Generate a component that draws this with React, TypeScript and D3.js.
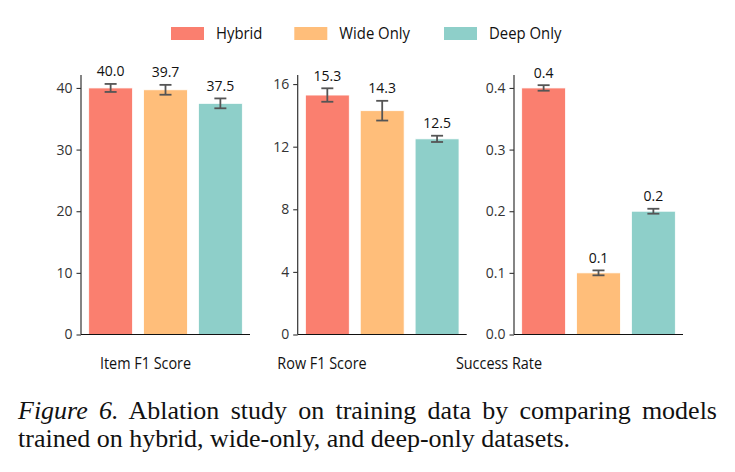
import { useRef, useEffect } from "react";
import * as d3 from "d3";

const models = ["Hybrid", "Wide Only", "Deep Only"];
const colors = ["#FA7F6F", "#FFBE7A", "#8ECFC9"];

const metrics = ["Item F1 Score", "Row F1 Score", "Success Rate"];
const itemF1 = [40.0, 39.7, 37.5];
const itemF1Err = [0.65, 0.8, 0.8];
const rowF1 = [15.3, 14.3, 12.5];
const rowF1Err = [0.43, 0.63, 0.2];
const successRate = [0.4, 0.1, 0.2];
const successRateErr = [0.0045, 0.004, 0.004];

const yMax = [42.1, 16.58, 0.421];
const yTicks = [
  [0, 10, 20, 30, 40],
  [0, 4, 8, 12, 16],
  [0, 0.1, 0.2, 0.3, 0.4],
];
const tickFormats = [d3.format("d"), d3.format("d"), d3.format(".1f")];
const valueFormats = [d3.format(".1f"), d3.format(".1f"), d3.format(".1f")];

const captionLabel = "Figure 6.";
const captionLines = [
  "Ablation study on training data by comparing models",
  "trained on hybrid, wide-only, and deep-only datasets.",
];

export default function App() {
  const svgRef = useRef<SVGSVGElement>(null);

  useEffect(() => {
    if (!svgRef.current) return;
    const width = 735;
    const height = 472;
    const font = "'Open Sans', 'Noto Sans', sans-serif";

    const svg = d3.select(svgRef.current);
    svg.selectAll("*").remove();
    svg.attr("width", width).attr("height", height);
    svg.append("rect").attr("width", width).attr("height", height).attr("fill", "#fff");

    const values = [itemF1, rowF1, successRate];
    const errors = [itemF1Err, rowF1Err, successRateErr];

    // panel layout
    const panelLeft = [81, 297.7, 514];
    const panelWidth = 169;
    const plotTop = 75;
    const plotBottom = 334.5;
    const labelCenter = [145.5, 322, 499];
    const condense = 0.9; // reference sans is narrower than Open Sans

    metrics.forEach((metric, p) => {
      const g = svg.append("g").attr("transform", `translate(${panelLeft[p]},0)`);

      const x = d3
        .scaleBand<string>()
        .domain(models)
        .range([0, panelWidth])
        .paddingInner(0.2)
        .paddingOuter(0.14);

      const y = d3.scaleLinear().domain([0, yMax[p]]).range([plotBottom, plotTop]);

      const rows = models.map((m, i) => ({
        model: m,
        value: values[p][i],
        err: errors[p][i],
        color: colors[i],
      }));

      // bars
      g.selectAll(".bar")
        .data(rows)
        .join("rect")
        .attr("class", "bar")
        .attr("x", (d) => x(d.model)!)
        .attr("y", (d) => y(d.value))
        .attr("width", x.bandwidth())
        .attr("height", (d) => y(0) - y(d.value))
        .attr("fill", (d) => d.color)
        .attr("stroke", "#fff")
        .attr("stroke-width", 0.8);

      // error bars
      const eb = g.selectAll(".err").data(rows).join("g").attr("class", "err")
        .attr("stroke", "#555")
        .attr("stroke-width", 1.8);
      const cx = (d: (typeof rows)[number]) => x(d.model)! + x.bandwidth() / 2;
      eb.append("line")
        .attr("x1", cx).attr("x2", cx)
        .attr("y1", (d) => y(d.value - d.err))
        .attr("y2", (d) => y(d.value + d.err));
      eb.append("line")
        .attr("x1", (d) => cx(d) - 6).attr("x2", (d) => cx(d) + 6)
        .attr("y1", (d) => y(d.value - d.err))
        .attr("y2", (d) => y(d.value - d.err));
      eb.append("line")
        .attr("x1", (d) => cx(d) - 6).attr("x2", (d) => cx(d) + 6)
        .attr("y1", (d) => y(d.value + d.err))
        .attr("y2", (d) => y(d.value + d.err));

      // value labels
      g.selectAll(".val")
        .data(rows)
        .join("text")
        .attr("class", "val")
        .attr("x", cx)
        .attr("y", (d) => y(d.value + d.err) - 7.5)
        .attr("text-anchor", "middle")
        .style("font-family", font)
        .style("font-size", "14px")
        .style("fill", "#111")
        .text((d) => valueFormats[p](d.value));

      // y axis
      const yAxis = g.append("g").call(
        d3.axisLeft(y).tickValues(yTicks[p]).tickFormat((d) => tickFormats[p](d as number)).tickSize(4.5).tickPadding(4)
      );
      yAxis.select(".domain").attr("d", `M0,${plotTop}V${plotBottom}`).attr("stroke", "#333").attr("stroke-width", 1.2);
      yAxis.selectAll(".tick line").attr("stroke", "#333").attr("stroke-width", 1.1);
      yAxis.selectAll(".tick text")
        .style("font-family", font)
        .style("font-size", "14px")
        .style("fill", "#333");

      // x axis line (no ticks)
      g.append("line")
        .attr("x1", 0).attr("x2", panelWidth)
        .attr("y1", plotBottom).attr("y2", plotBottom)
        .attr("stroke", "#111").attr("stroke-width", 1.2);

      const xl = svg.append("text")
        .attr("x", labelCenter[p])
        .attr("y", 369)
        .attr("text-anchor", "middle")
        .style("font-family", font)
        .style("font-size", "16px")
        .style("fill", "#111")
        .text(metric);
      const nat = (xl.node() as SVGTextElement).getComputedTextLength();
      xl.attr("textLength", nat * condense).attr("lengthAdjust", "spacingAndGlyphs");
    });

    // legend
    const legendX = [171, 294.3, 444];
    const legend = svg.selectAll(".legend").data(models).join("g").attr("class", "legend")
      .attr("transform", (_, i) => `translate(${legendX[i]},27)`);
    legend.append("rect").attr("width", 33).attr("height", 13).attr("fill", (_, i) => colors[i]);
    legend.append("text")
      .attr("x", 45)
      .attr("y", 11.5)
      .style("font-family", font)
      .style("font-size", "15.5px")
      .style("fill", "#111")
      .each(function () {
        const t = d3.select(this);
        t.text((t.datum() as string));
        const nat = (this as SVGTextElement).getComputedTextLength();
        t.attr("textLength", nat * 0.96).attr("lengthAdjust", "spacingAndGlyphs");
      });

    // caption, first line justified to the text block width
    const capLeft = 18;
    const capRight = 717;
    const capFont = "'Liberation Serif', 'Times New Roman', serif";
    const l1 = svg.append("text")
      .attr("x", capLeft)
      .attr("y", 419)
      .style("font-family", capFont)
      .style("font-size", "26px")
      .style("fill", "#111");
    l1.append("tspan").style("font-style", "italic").text(captionLabel);
    l1.append("tspan").text(" " + captionLines[0]);
    const natural = (l1.node() as SVGTextElement).getComputedTextLength();
    const spaces = (captionLabel + " " + captionLines[0]).split(" ").length - 1;
    l1.style("word-spacing", `${(capRight - capLeft - natural) / spaces}px`);

    svg.append("text")
      .attr("x", capLeft)
      .attr("y", 447)
      .style("font-family", capFont)
      .style("font-size", "26px")
      .style("fill", "#111")
      .text(captionLines[1]);
  }, []);

  return <svg ref={svgRef} style={{ position: "absolute", left: 0, top: 0, display: "block" }} />;
}
